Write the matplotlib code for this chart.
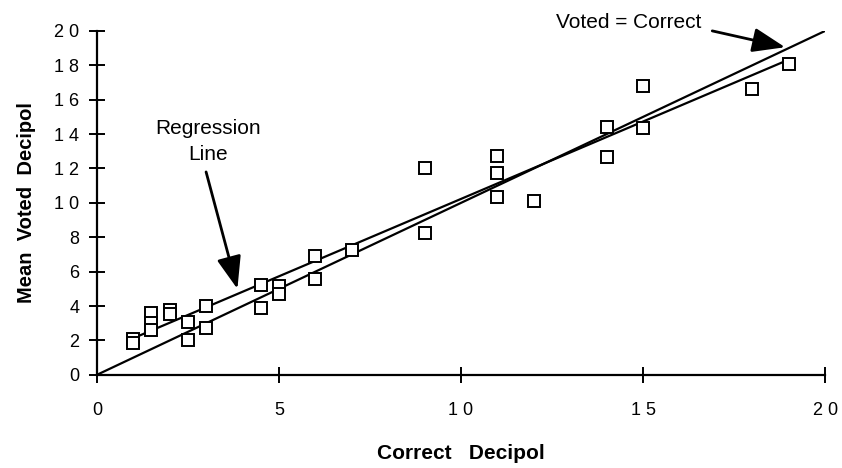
import matplotlib.pyplot as plt
import numpy as np

plt.rcParams['font.family'] = ['Liberation Sans', 'DejaVu Sans']

# correct vs. mean voted decipol
correct = [1, 1, 1.5, 1.5, 1.5, 2, 2, 2.5, 2.5, 3, 3, 4.5, 4.5, 5, 5,
           6, 6, 7, 9, 9, 11, 11, 11, 12, 14, 14, 15, 15, 18, 19]
voted = [2.1, 1.85, 3.6, 3.0, 2.6, 3.8, 3.55, 3.1, 2.0, 4.0, 2.7, 5.2, 3.9, 5.15, 4.7,
         6.9, 5.55, 7.25, 12.0, 8.25, 12.7, 11.75, 10.35, 10.1, 14.4, 12.65, 16.8, 14.35, 16.6, 18.05]

# regression line as drawn on the original
reg_slope = 0.90
reg_intercept = 1.23

xticks = [0, 5, 10, 15, 20]
yticks = [0, 2, 4, 6, 8, 10, 12, 14, 16, 18, 20]

x = np.array(correct)
y = np.array(voted)

fig = plt.figure(figsize=(8.42, 4.68), dpi=100)
ax = fig.add_axes([0.115, 0.199, 0.865, 0.735])

# identity line
ax.plot([0, 20], [0, 20], color='black', lw=1.6)
# regression line
xr = np.array([x.min(), x.max()])
ax.plot(xr, reg_slope * xr + reg_intercept, color='black', lw=1.6)

ax.plot(x, y, 's', mfc='white', mec='black', ms=8.5, mew=1.4)

ax.set_xlim(0, 20)
ax.set_ylim(0, 20)
for s in ['top', 'right']:
    ax.spines[s].set_visible(False)
for s in ['left', 'bottom']:
    ax.spines[s].set_linewidth(1.6)

ax.set_xticks(xticks)
ax.set_xticklabels([' '.join(str(t)) for t in xticks])
ax.set_yticks(yticks)
ax.set_yticklabels([' '.join(str(t)) for t in yticks])
ax.tick_params(direction='inout', length=11, width=1.4, labelsize=13)
ax.tick_params(axis='x', pad=14)
ax.tick_params(axis='y', pad=7)

ax.set_xlabel('Correct   Decipol', fontsize=15, fontweight='bold', labelpad=18)
ax.set_ylabel('Mean  Voted  Decipol', fontsize=14.5, fontweight='bold', labelpad=13)

head = dict(arrowstyle='-|>,head_length=2.0,head_width=0.75', mutation_scale=10,
            color='black', lw=2, shrinkA=0, shrinkB=0)

ax.text(14.6, 20.5, 'Voted = Correct', fontsize=15, ha='center', va='center')
ax.annotate('', xy=(18.9, 19.05), xytext=(16.9, 20.0), annotation_clip=False,
            arrowprops=head)

ax.text(3.05, 14.35, 'Regression', fontsize=15, ha='center', va='center')
ax.text(3.05, 12.8, 'Line', fontsize=15, ha='center', va='center')
ax.annotate('', xy=(3.86, 5.0), xytext=(3.0, 11.8), arrowprops=head)

fig.savefig('out.png', dpi=100)
